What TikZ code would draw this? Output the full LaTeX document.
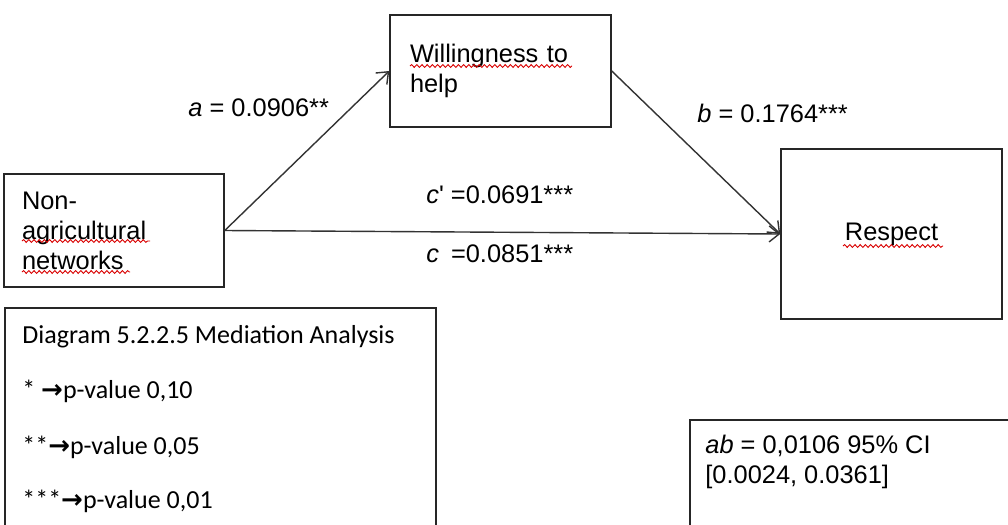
\documentclass[tikz,border=0pt]{standalone}
\usepackage{fontspec}
\setmainfont{Liberation Sans}
\newfontfamily\calibri{Carlito}
\newfontfamily\dejavu{DejaVu Sans}
\usetikzlibrary{arrows.meta,positioning,decorations.pathmorphing}

\begin{document}
\begin{tikzpicture}[x=0.5pt,y=-0.5pt,
font=\fontsize{12.7}{15}\selectfont,
box/.style={draw=black!85,line width=0.75pt,rectangle,align=left,inner ysep=0pt},
link/.style={->,draw=black!80,line width=0.7pt,>={Straight Barb[length=5pt,width=8pt]}},
coef/.style={anchor=base west,inner sep=0pt},
legline/.style={anchor=base west,inner sep=0pt,font=\calibri\fontsize{13}{15}\selectfont},
spell/.style={draw=red!85!black,line width=0.45pt,decorate,decoration={snake,amplitude=0.7pt,segment length=2.6pt}}]
    % Page
    \useasboundingbox (0,0) rectangle (1008,525);
    \fill[white] (0,0) rectangle (1008,525);

    % Variables
    \node[box,minimum width=110pt,minimum height=56.5pt,text width=92pt,inner xsep=9pt]
        (nonagri) at (114,230.5) {Non-\\agricultural\\networks};
    \node[box,minimum width=110.5pt,minimum height=56pt,text width=90.5pt,inner xsep=10pt]
        (willing) at (500.5,71) {Willingness to\\help};
    \node[box,minimum width=110.5pt,minimum height=85pt,align=center]
        (respect) at (891.5,234) {Respect};

    % Paths
    \draw[link] (nonagri.east) -- (willing.west);
    \draw[link] (willing.east) -- (respect.west);
    \draw[link] (nonagri.east) -- (respect.west);

    % Coefficients
    \node[coef] (alabel) at (188,116) {\textit{a} = 0.0906**};
    \node[coef] (blabel) at (697,122) {\textit{b} = 0.1764***};
    \node[coef] (cprime) at (426,203) {\textit{c}\textquotesingle{} =0.0691***};
    \node[coef] (ctotal) at (426,262) {\textit{c}\phantom{\textquotesingle} =0.0851***};

    % Legend
    \node[box,minimum width=215.5pt,minimum height=120pt,anchor=north west] (legend) at (4,307) {};
    \node[legline] (legtitle) at (22,343) {Diagram 5.2.2.5 Mediation Analysis};
    \node[legline] (legone) at (22,398) {* {\dejavu\bfseries →}p-value 0,10};
    \node[legline] (legtwo) at (22,454) {**{\dejavu\bfseries →}p-value 0,05};
    \node[legline] (legthree) at (22,508) {***{\dejavu\bfseries →}p-value 0,01};

    % Indirect effect
    \node[box,minimum width=170pt,minimum height=65pt,anchor=north west] (abbox) at (689,419) {};
    \node[coef] (abvalue) at (705,453) {\textit{ab} = 0,0106 95\% CI};
    \node[coef] (abci) at (705,483) {[0.0024, 0.0361]};

    % Spelling marks
    \draw[spell] (410,66) -- (572,66);
    \draw[spell] (22,241) -- (150,241);
    \draw[spell] (22,272) -- (130,272);
    \draw[spell] (843,246) -- (943,246);
\end{tikzpicture}
\end{document}
